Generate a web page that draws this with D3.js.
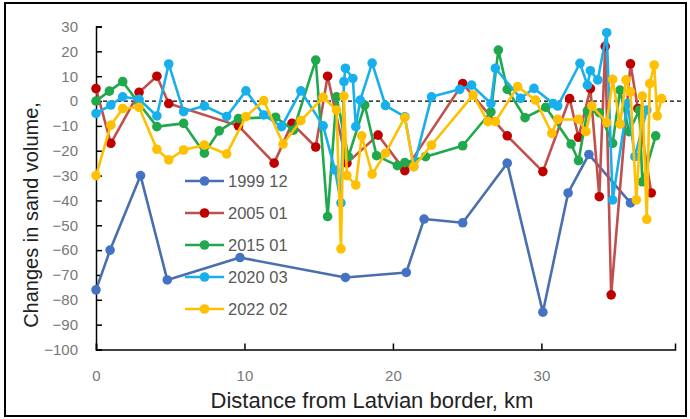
<!DOCTYPE html>
<html>
<head>
<meta charset="utf-8">
<script src="https://d3js.org/d3.v7.min.js"></script>
<style>
    html, body { margin: 0; padding: 0; background: #fff; overflow: hidden; }
    text { font-family: "Liberation Sans", Arial, sans-serif; }
</style>
</head>
<body>
<svg id="chart" width="690" height="419"></svg>
<script>
// distance (km), change in sand volume
var s1999 = [[0,-76],[0.95,-60],[3.0,-30],[4.8,-72],[9.7,-63],[16.8,-71],[20.9,-69],[22.1,-47.5],
    [24.7,-49],[27.7,-25],[30.1,-85],[31.8,-37],[33.2,-21.5],[36.0,-41]];
var s2005 = [[0,5],[1.0,-17],[2.9,3.5],[4.1,10],[4.9,-1],[9.6,-10],[12.0,-25],[13.2,-9],[14.8,-18.5],
    [15.6,10],[16.9,-25],[19.0,-13.7],[20.8,-28],[24.7,7],[27.7,-14],[30.1,-28.4],[31.9,1],[32.5,-14.6],
    [33.3,5],[33.9,-38.5],[34.3,22],[34.7,-78],[36.0,15],[36.5,-3],[37.4,-37]];
var s2015 = [[0,0],[0.9,4],[1.8,7.8],[2.9,-1],[4.1,-10.3],[5.9,-9],[7.3,-21],[8.3,-12],[9.6,-7],
    [12.1,-6.5],[13.3,-11.7],[14.8,16.5],[15.6,-46.5],[16.2,1.7],[17.0,-22.4],[18.1,-1.6],[18.9,-22],
    [20.3,-26],[20.8,-24.8],[22.2,-22.4],[24.7,-18],[26.6,-4.4],[27.1,20.5],[27.7,4.7],[28.9,-6.7],
    [30.3,-2.5],[32.0,-17.3],[32.5,-24],[33.1,-4],[33.9,-4.7],[34.8,-17],[35.3,4.4],[35.9,-12.3],
    [36.6,-3.6],[36.8,-32.5],[37.7,-14]];
var s2020 = [[0,-5],[1.0,-1.6],[1.8,1.7],[2.9,0.7],[4.1,-6],[4.9,14.9],[5.9,-4.3],[7.3,-2],[8.8,-6.2],
    [10.1,4.1],[11.3,-5.6],[12.5,-10.3],[13.8,4.1],[15.3,-10],[16.1,-27.8],[16.5,-41],[16.7,7.8],
    [16.8,13.2],[17.3,9.1],[17.5,-10.3],[17.8,0.4],[18.6,15.3],[19.5,-1.8],[20.8,-6.3],[21.4,-26.4],
    [22.6,1.7],[24.5,4.7],[25.3,6.4],[26.6,-1],[26.9,13.2],[28.6,1.1],[29.5,5.1],[30.8,-1],[31.1,-2],
    [32.6,15.2],[33.1,6.4],[33.3,12.2],[33.8,8.5],[34.4,27.5],[34.8,-39.8],[35.8,-1],[36.3,-22.4],[37.1,-3.6]];
var s2022 = [[0,-30],[1.0,-9.7],[1.8,-3],[2.9,-2.5],[4.1,-19.4],[4.9,-23.7],[5.9,-19.7],[7.3,-17.7],
    [8.8,-21.3],[10.1,-6.3],[11.3,0.2],[12.6,-17.3],[13.8,-7.9],[15.3,1.5],[16.2,-3.6],[16.5,-59.5],
    [16.7,2],[16.9,-30],[17.5,-33.8],[17.9,-14],[18.6,-29.4],[19.5,-21],[20.8,-6.6],[21.4,-26.4],
    [22.6,-17.7],[25.4,2.4],[26.4,-8.3],[26.9,-8.3],[28.4,5.8],[29.6,0.4],[30.7,-13],[31.1,-7.4],
    [32.5,-7.4],[33.0,-12.3],[33.4,-2],[34.4,-8.7],[34.8,8.7],[35.3,-9.3],[35.7,8.5],[36.0,3.7],
    [36.4,-39.8],[36.8,2],[37.1,-47.6],[37.3,7],[37.6,14.5],[37.8,-6],[38.1,1]];

var seriesNames = ["1999 12", "2005 01", "2015 01", "2020 03", "2022 02"];
var seriesData = [s1999, s2005, s2015, s2020, s2022];
var lineColors = ["#4a6fae", "#c0504d", "#1fa84c", "#17b0ec", "#ffc000"];
var dotColors = ["#4472c4", "#c00000", "#1fa84c", "#17b0ec", "#ffc000"];
var xTicks = [0, 10, 20, 30];
var yTicks = d3.range(-100, 31, 10);

var svg = d3.select("#chart");

svg.append("rect")
    .attr("x", 5).attr("y", 3).attr("width", 681).attr("height", 413)
    .attr("fill", "none").attr("stroke", "#000").attr("stroke-width", 2);

var x = d3.scaleLinear().domain([0, 39]).range([96, 675]);
var y = d3.scaleLinear().domain([-100, 30]).range([349.5, 26.5]);

// axes
var yAxis = svg.append("g")
    .attr("transform", "translate(" + x(0) + ",0)")
    .call(d3.axisRight(y).tickValues(yTicks).tickSize(6).tickFormat(d3.format("d")));
yAxis.select(".domain").attr("stroke", "#000").attr("stroke-width", 1.5);
yAxis.selectAll(".tick line").attr("stroke", "#000").attr("stroke-width", 1.5);
yAxis.selectAll(".tick text")
    .attr("x", -18).attr("text-anchor", "end")
    .attr("fill", "#777").style("font-size", "15px");

var xAxis = svg.append("g")
    .attr("transform", "translate(0," + y(-100) + ")")
    .call(d3.axisTop(x).tickValues(xTicks).tickSize(6).tickFormat(d3.format("d")));
xAxis.select(".domain").attr("stroke", "#000").attr("stroke-width", 1.5);
xAxis.selectAll(".tick line").attr("stroke", "#000").attr("stroke-width", 1.5);
xAxis.selectAll(".tick text")
    .attr("y", 31).attr("dy", 0)
    .attr("fill", "#777").style("font-size", "15px");

// zero line
svg.append("line")
    .attr("x1", x(0)).attr("x2", 681)
    .attr("y1", y(0)).attr("y2", y(0))
    .attr("stroke", "#000").attr("stroke-width", 1.3)
    .attr("stroke-dasharray", "4,3");

var line = d3.line()
    .x(function(d) { return x(d[0]); })
    .y(function(d) { return y(d[1]); });

seriesData.forEach(function(data, i) {
    var g = svg.append("g");
    g.append("path")
        .datum(data)
        .attr("d", line)
        .attr("fill", "none")
        .attr("stroke", lineColors[i])
        .attr("stroke-width", 2.6)
        .attr("stroke-linejoin", "round");
    g.selectAll("circle")
        .data(data)
        .enter().append("circle")
        .attr("cx", function(d) { return x(d[0]); })
        .attr("cy", function(d) { return y(d[1]); })
        .attr("r", 4.8)
        .attr("fill", dotColors[i]);
});

// legend
var legend = svg.append("g");
seriesNames.forEach(function(name, i) {
    var ly = 181 + i * 32;
    legend.append("line")
        .attr("x1", 185).attr("x2", 224).attr("y1", ly).attr("y2", ly)
        .attr("stroke", lineColors[i]).attr("stroke-width", 2.6);
    legend.append("circle")
        .attr("cx", 204.5).attr("cy", ly).attr("r", 4.8)
        .attr("fill", dotColors[i]);
    legend.append("text")
        .attr("x", 228).attr("y", ly).attr("dy", "0.35em")
        .attr("fill", "#595959").style("font-size", "16.5px")
        .text(name);
});

// titles
svg.append("text")
    .attr("x", 372).attr("y", 408)
    .attr("text-anchor", "middle")
    .attr("fill", "#222").style("font-size", "22px")
    .text("Distance from Latvian border, km");

svg.append("text")
    .attr("transform", "translate(38,215) rotate(-90)")
    .attr("text-anchor", "middle")
    .attr("fill", "#222").style("font-size", "20px")
    .text("Changes in sand volume,");
</script>
</body>
</html>
